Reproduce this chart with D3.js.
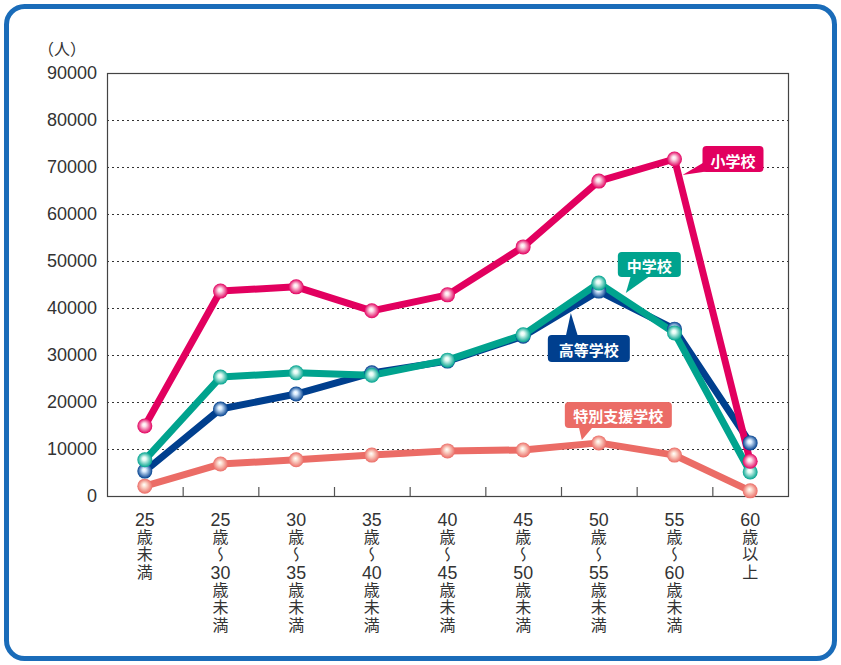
<!DOCTYPE html>
<html><head><meta charset="utf-8">
<script src="https://cdn.jsdelivr.net/npm/d3@7/dist/d3.min.js"></script>
<style>
html,body{margin:0;padding:0;background:#fff;}
#wrap{position:relative;width:841px;height:665px;}
svg{display:block;position:absolute;left:0;top:0;}
.xlab{position:absolute;writing-mode:vertical-rl;font-family:'Noto Sans CJK JP',sans-serif;
  font-size:16px;line-height:30px;width:30px;letter-spacing:1.4px;color:#333;white-space:nowrap;}
.xlab .num{text-combine-upright:all;font-family:'Liberation Sans',Arial,sans-serif;font-size:18px;letter-spacing:0;}
</style></head>
<body>
<div id="wrap">
<svg id="chart" width="841" height="665"></svg>
</div>
<script>
// ---- data ----
const categories = ["25歳未満","25歳～30歳未満","30歳～35歳未満","35歳～40歳未満","40歳～45歳未満","45歳～50歳未満","50歳～55歳未満","55歳～60歳未満","60歳以上"];
const tickLines = [
  ["25","歳","未","満"],
  ["25","歳","～","30","歳","未","満"],
  ["30","歳","～","35","歳","未","満"],
  ["35","歳","～","40","歳","未","満"],
  ["40","歳","～","45","歳","未","満"],
  ["45","歳","～","50","歳","未","満"],
  ["50","歳","～","55","歳","未","満"],
  ["55","歳","～","60","歳","未","満"],
  ["60","歳","以","上"]
];
const seriesNames = ["特別支援学校","高等学校","中学校","小学校"];
const special    = [2100, 6800, 7700, 8700, 9600, 9800, 11300, 8700, 1100];
const highSchool = [5300, 18500, 21700, 26200, 28700, 34000, 43600, 35500, 11300];
const juniorHigh = [7700, 25300, 26200, 25700, 28900, 34300, 45300, 34700, 5100];
const elementary = [14900, 43600, 44500, 39400, 42800, 53000, 67000, 71700, 7400];
const yTicks = [0,10000,20000,30000,40000,50000,60000,70000,80000,90000];
const yUnit = "（人）";

const colors = {"小学校":"#e2005f","中学校":"#00a38e","高等学校":"#003f8e","特別支援学校":"#eb6c66"};
const series = [
  {name:"特別支援学校", values:special, hi:"#fde3d6"},
  {name:"高等学校", values:highSchool, hi:"#d9ecff"},
  {name:"中学校", values:juniorHigh, hi:"#e4fbf4"},
  {name:"小学校", values:elementary, hi:"#fde0ea"}
];
// callout settings: index of anchor point, box offset
const callouts = [
  {name:"小学校", idx:7, dx:28, dy:-13, w:61, h:26, tipdx:8, tipdy:16},
  {name:"中学校", idx:6, dx:19, dy:-31, w:63, h:25, tipdx:27, tipdy:10},
  {name:"高等学校", idx:6, dx:-51, dy:44, w:82, h:27, tipdx:-28, tipdy:22},
  {name:"特別支援学校", idx:6, dx:-34, dy:-41, w:107, h:26, tipdx:-17, tipdy:-3}
];

(function(){
const svg = d3.select("#chart");
const W = 841, H = 665;
// frame
svg.append("rect").attr("x",6.5).attr("y",6.5).attr("width",W-13).attr("height",H-13)
  .attr("rx",18).attr("fill","#fff").attr("stroke","#1a6cb9").attr("stroke-width",5);

const pL = 107, pR = 788, pT = 73, pB = 496;
const xb = d3.scaleBand().domain(categories).range([pL, pR]).padding(0);
const xc = c => xb(c) + xb.bandwidth()/2;
const y = d3.scaleLinear().domain([0, 90000]).range([pB, pT]);

// gridlines
svg.append("g").selectAll("line").data(yTicks.filter(t => t>0 && t<90000)).join("line")
  .attr("x1", pL).attr("x2", pR).attr("y1", d=>y(d)+0.5).attr("y2", d=>y(d)+0.5)
  .attr("stroke","#333").attr("stroke-width",1).attr("stroke-dasharray","2,3");

// y axis labels via d3 axis
const yAxis = d3.axisLeft(y).tickValues(yTicks).tickSize(0).tickPadding(10).tickFormat(d3.format("d"));
const gy = svg.append("g").attr("transform",`translate(${pL},0)`).call(yAxis);
gy.select(".domain").remove();
gy.selectAll("text").attr("font-family","'Liberation Sans', Arial, sans-serif").attr("font-size",18).attr("fill","#333");

svg.append("text").attr("x",38).attr("y",55).text(yUnit)
  .attr("font-family","'Noto Sans CJK JP', sans-serif").attr("font-size",16).attr("fill","#333");

// plot frame
svg.append("rect").attr("x",pL+0.5).attr("y",pT+0.5).attr("width",pR-pL).attr("height",pB-pT)
  .attr("fill","none").attr("stroke","#444").attr("stroke-width",1.2);

// x ticks (inward) at band boundaries
const boundaries = categories.slice(1).map(c => xb(c));
svg.append("g").selectAll("line").data(boundaries).join("line")
  .attr("x1", d=>d+0.5).attr("x2", d=>d+0.5).attr("y1", pB).attr("y2", pB-9)
  .attr("stroke","#555").attr("stroke-width",1.2);

// x labels: vertical writing, one block per category
const wrap = d3.select("#wrap");
categories.forEach((c,i) => {
  const cx = xc(c);
  const div = wrap.append("div").attr("class","xlab")
    .style("left", (cx - 15) + "px").style("top", "511px");
  tickLines[i].forEach(t => {
    if (/\d/.test(t)) div.append("span").attr("class","num").text(t);
    else div.append("span").text(t);
  });
});

// gradients for markers
const defs = svg.append("defs");
series.forEach((s,k) => {
  const g = defs.append("radialGradient").attr("id","grad"+k)
    .attr("cx","50%").attr("cy","50%").attr("r","50%").attr("fx","45%").attr("fy","40%");
  g.append("stop").attr("offset","0%").attr("stop-color","#ffffff");
  g.append("stop").attr("offset","25%").attr("stop-color",s.hi);
  g.append("stop").attr("offset","100%").attr("stop-color",colors[s.name]);
});

const line = d3.line().x((d,i)=>xc(categories[i])).y(d=>y(d));
series.forEach(s => {
  svg.append("path").datum(s.values).attr("d", line)
    .attr("fill","none").attr("stroke",colors[s.name]).attr("stroke-width",7)
    .attr("stroke-linejoin","round");
});

// callouts
const cg = svg.append("g");
callouts.forEach(co => {
  const s = series.find(d => d.name === co.name);
  const px = xc(categories[co.idx]), py = y(s.values[co.idx]);
  const col = colors[co.name];
  const bx = px + co.dx, by = py + co.dy;
  let tri;
  if (co.name === "小学校") {
    tri = [[bx+2, by+co.h-10],[bx+14, by+co.h-2],[px+co.tipdx, py+co.tipdy]];
  } else if (co.name === "中学校") {
    tri = [[bx+13, by+co.h-1],[bx+32, by+co.h-1],[px+co.tipdx, py+co.tipdy]];
  } else if (co.name === "高等学校") {
    tri = [[bx+18, by+1],[bx+30, by+1],[px+co.tipdx, py+co.tipdy]];
  } else {
    tri = [[bx+14, by+co.h-1],[bx+28, by+co.h-1],[px+co.tipdx, py+co.tipdy]];
  }
  cg.append("path").attr("d", d3.line()(tri) + "Z").attr("fill", col);
  cg.append("rect").attr("x",bx).attr("y",by).attr("width",co.w).attr("height",co.h)
    .attr("rx",4).attr("fill",col);
  cg.append("text").text(co.name).attr("x", bx+co.w/2).attr("y", by+co.h/2+1)
    .attr("text-anchor","middle").attr("dominant-baseline","central")
    .attr("font-family","'Noto Sans CJK JP', sans-serif").attr("font-weight","bold")
    .attr("font-size",15).attr("fill","#fff");
});

// markers (drawn after lines)
series.forEach((s,k) => {
  svg.append("g").selectAll("circle").data(s.values).join("circle")
    .attr("cx",(d,i)=>xc(categories[i])).attr("cy",d=>y(d)).attr("r",7.5)
    .attr("fill","url(#grad"+k+")");
});
})();
</script>
</body></html>
